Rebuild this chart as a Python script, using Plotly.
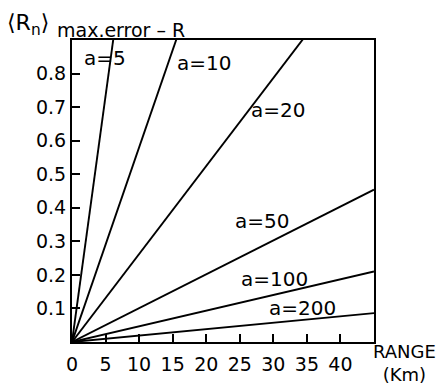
import plotly.graph_objects as go

# Family parameter a for each straight line through the origin
a_values = [5, 10, 20, 50, 100, 200]
# Maximum error reached at the far end of the range (45 km) for each a
error_at_end = [6.6, 2.61, 1.18, 0.454, 0.21, 0.086]
range_end_km = 45

# Line label placement (data coords)
label_x = [4.95, 19.7, 30.7, 28.3, 30.2, 34.3]
label_y = [0.846, 0.83, 0.69, 0.362, 0.188, 0.102]

x_ticks = [0, 5, 10, 15, 20, 25, 30, 35, 40]
y_ticks = [0.1, 0.2, 0.3, 0.4, 0.5, 0.6, 0.7, 0.8]

FONT = "DejaVu Sans"
INK = "black"

fig = go.Figure()
for a, e in zip(a_values, error_at_end):
    fig.add_trace(go.Scatter(
        x=[0, range_end_km], y=[0, e], mode="lines",
        line=dict(color=INK, width=1.9), name=f"a={a}", showlegend=False,
        hoverinfo="skip",
    ))

for a, lx, ly in zip(a_values, label_x, label_y):
    fig.add_annotation(x=lx, y=ly, text=f"a={a}", showarrow=False,
                       font=dict(family=FONT, size=20, color=INK))

axis_common = dict(
    showgrid=False, zeroline=False, showline=True, linecolor=INK, linewidth=2,
    mirror=True, ticks="inside", ticklen=8, tickwidth=1.5, tickcolor=INK,
    tickfont=dict(family=FONT, size=19, color=INK),
)
fig.update_xaxes(range=[0, range_end_km], tickvals=x_ticks,
                 ticktext=[str(v) for v in x_ticks], ticklabelstandoff=4,
                 **axis_common)
fig.update_yaxes(range=[0, 0.9], tickvals=y_ticks,
                 ticktext=[f"{v:.1f}" for v in y_ticks], **axis_common)

# Y-axis title: ⟨Rn⟩ followed by "max.error – R"
fig.add_annotation(xref="paper", yref="paper", x=0, y=1, xshift=-67, yshift=16,
                   xanchor="left", yanchor="middle", showarrow=False,
                   text="⟨R<sub>n</sub>⟩",
                   font=dict(family=FONT, size=22, color=INK))
fig.add_annotation(xref="paper", yref="paper", x=0, y=1, xshift=-17, yshift=10,
                   xanchor="left", yanchor="middle", showarrow=False,
                   text="max.error – R",
                   font=dict(family=FONT, size=19, color=INK))
# X-axis title
fig.add_annotation(xref="paper", yref="paper", x=1, y=0, xshift=-3, yshift=3,
                   xanchor="left", yanchor="top", showarrow=False,
                   text="RANGE<br>(Km)", align="center",
                   font=dict(family=FONT, size=18, color=INK))

fig.update_layout(
    width=444, height=386,
    margin=dict(l=72, r=70, t=40, b=44),
    paper_bgcolor="white", plot_bgcolor="white",
)

fig.write_html("out.html")
